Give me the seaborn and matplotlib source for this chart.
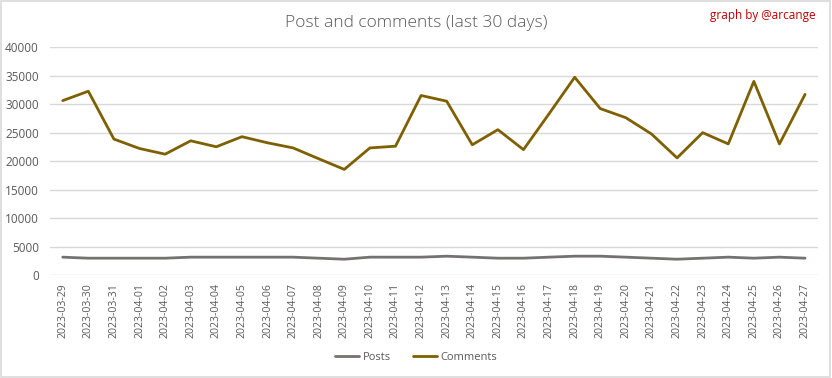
import pandas as pd
import matplotlib.pyplot as plt
import seaborn as sns
from matplotlib.patches import Rectangle

# data
dates = ['2023-03-29', '2023-03-30', '2023-03-31', '2023-04-01', '2023-04-02',
         '2023-04-03', '2023-04-04', '2023-04-05', '2023-04-06', '2023-04-07',
         '2023-04-08', '2023-04-09', '2023-04-10', '2023-04-11', '2023-04-12',
         '2023-04-13', '2023-04-14', '2023-04-15', '2023-04-16', '2023-04-17',
         '2023-04-18', '2023-04-19', '2023-04-20', '2023-04-21', '2023-04-22',
         '2023-04-23', '2023-04-24', '2023-04-25', '2023-04-26', '2023-04-27']
posts = [3130, 2950, 2950, 2950, 2950, 3130, 3130, 3130, 3130, 3130,
         2950, 2770, 3130, 3130, 3130, 3300, 3130, 2950, 2950, 3130,
         3300, 3300, 3130, 2950, 2770, 2950, 3130, 2950, 3130, 2950]
comments = [30600, 32250, 23850, 22200, 21200, 23550, 22500, 24270, 23200, 22300,
            20400, 18530, 22300, 22600, 31500, 30500, 22850, 25500, 22000, 28300,
            34700, 29200, 27600, 24750, 20550, 24980, 23000, 33980, 23000, 31700]
y_ticks = [0, 5000, 10000, 15000, 20000, 25000, 30000, 35000, 40000]

df = pd.DataFrame({'date': dates * 2,
                   'value': posts + comments,
                   'series': ['Posts'] * len(dates) + ['Comments'] * len(dates)})

sns.set_style('white')
plt.rcParams['font.family'] = ['Open Sans', 'DejaVu Sans']
text_col = '#595959'

fig = plt.figure(figsize=(8.32, 3.78), dpi=100)
ax = fig.add_axes([0.060, 0.2725, 0.923, 0.603])

sns.lineplot(data=df, x='date', y='value', hue='series',
             palette={'Posts': '#767171', 'Comments': '#7F6000'},
             linewidth=2, ax=ax, legend=False)

ax.set_xlim(-0.5, len(dates) - 0.5)
ax.set_ylim(0, 40000)
ax.set_yticks(y_ticks)
ax.set_yticklabels([str(t) for t in y_ticks])
ax.grid(axis='y', color='#D9D9D9', linewidth=1)
ax.set_axisbelow(True)
for s in ax.spines.values():
    s.set_visible(False)
ax.tick_params(axis='both', length=0, labelsize=8.5, colors=text_col)
ax.tick_params(axis='x', rotation=90, pad=6, labelsize=7.6)
ax.tick_params(axis='y', pad=8)
ax.set_xlabel('')
ax.set_ylabel('')

fig.text(0.5, 0.94, 'Post and comments (last 30 days)', ha='center', va='center',
         fontsize=12.5, color=text_col, fontweight='light')
fig.text(0.98, 0.96, 'graph by @arcange', ha='right', va='center',
         fontsize=8.5, color='#C00000')

handles = [plt.Line2D([], [], color='#767171', lw=2),
           plt.Line2D([], [], color='#7F6000', lw=2)]
fig.legend(handles, ['Posts', 'Comments'], loc='center', bbox_to_anchor=(0.5, 0.055),
           ncol=2, frameon=False, fontsize=8, labelcolor=text_col,
           handlelength=2.2, handletextpad=0.3, columnspacing=2)

fig.add_artist(Rectangle((0.001, 0.002), 0.997, 0.995, transform=fig.transFigure,
                         fill=False, edgecolor='#D9D9D9', linewidth=1.2))

fig.savefig('out.png', dpi=100, facecolor='white')
